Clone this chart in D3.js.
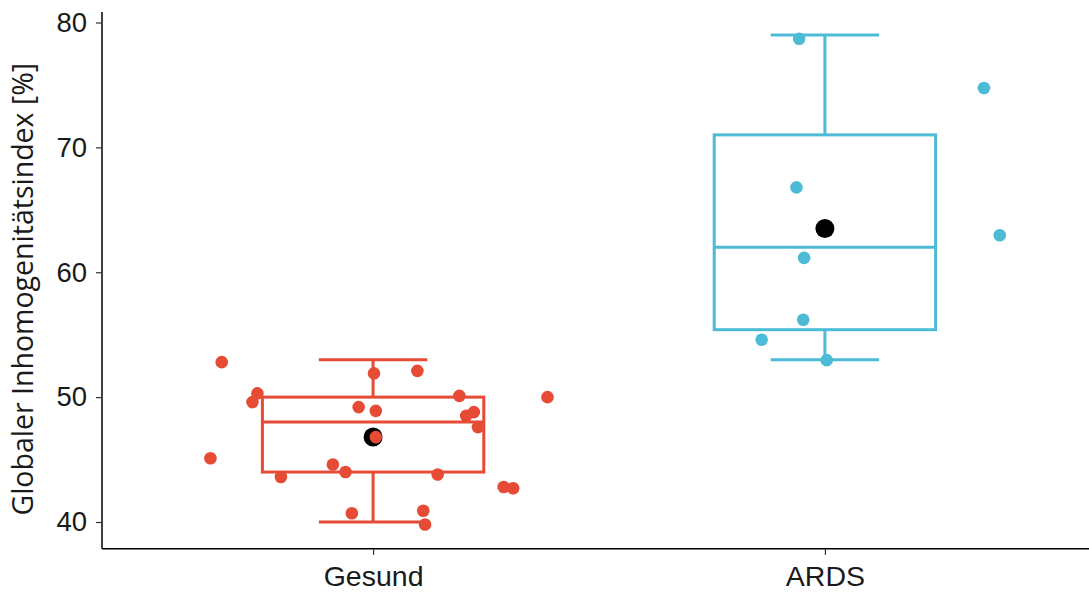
<!DOCTYPE html>
<html>
<head>
<meta charset="utf-8">
<script src="https://cdn.jsdelivr.net/npm/d3@7"></script>
<style>
  body { margin: 0; background: #fff; }
  svg { display: block; font-family: "Open Sans", "Noto Sans", sans-serif; }
</style>
</head>
<body>
<div id="chart"></div>
<script>
// groups and their colours
var groups = ["Gesund", "ARDS"];
var colors = ["#E64B35", "#4DBBD5"];

// box statistics per group: [lower whisker, q1, median, q3, upper whisker]
var boxStats = [
  [40, 44, 48, 50, 53],
  [53, 55.4, 62, 71, 79]
];
var means = [46.8, 63.5];

// jittered points (offset is jitter as a fraction of the band step)
var gesundValues = [52.8, 51.9, 52.1, 50.3, 49.6, 50.1, 50.0, 49.2, 48.9, 48.5, 48.8, 47.6,
                    46.8, 45.1, 44.6, 44.0, 43.6, 43.8, 42.8, 42.7, 40.7, 40.9, 39.8];
var gesundJitter = [-0.335, 0.002, 0.098, -0.256, -0.267, 0.191, 0.386, -0.032, 0.006, 0.206,
                    0.223, 0.232, 0.006, -0.36, -0.089, -0.061, -0.204, 0.143, 0.289, 0.31,
                    -0.047, 0.111, 0.115];
var ardsValues = [78.7, 74.75, 66.8, 62.96, 61.15, 56.2, 54.6, 52.96];
var ardsJitter = [-0.057, 0.352, -0.063, 0.387, -0.046, -0.048, -0.14, 0.004];

var yTicks = [40, 50, 60, 70, 80];

var W = 1089, H = 592;
var svg = d3.select("#chart").append("svg")
    .attr("width", W).attr("height", H);

var x = d3.scalePoint()
    .domain(groups)
    .range([102, 1096])
    .padding(0.6);
var step = x.step();

var y = d3.scaleLinear()
    .domain([40, 80])
    .range([522, 22.5]);

// axes
var yAxis = svg.append("g")
    .attr("transform", "translate(102,0)")
    .call(d3.axisLeft(y).tickValues(yTicks).tickSize(6).tickPadding(9).tickSizeOuter(0));
yAxis.select(".domain").attr("d", "M0," + y(80.85) + "V" + y(37.85))
    .attr("stroke", "#000").attr("stroke-width", 1.5);
yAxis.selectAll(".tick line").attr("stroke", "#333").attr("stroke-width", 1.2);
yAxis.selectAll(".tick text").attr("font-size", 27.5).attr("fill", "#1a1a1a");

var xAxis = svg.append("g")
    .attr("transform", "translate(0," + y(37.85) + ")")
    .call(d3.axisBottom(x).tickSize(6).tickPadding(11).tickSizeOuter(0));
xAxis.select(".domain").attr("d", "M102,0H" + W)
    .attr("stroke", "#000").attr("stroke-width", 1.5);
xAxis.selectAll(".tick line").attr("stroke", "#333").attr("stroke-width", 1.2);
xAxis.selectAll(".tick text").attr("font-size", 28.5).attr("fill", "#1a1a1a");

svg.append("text")
    .attr("transform", "translate(33," + (y(60) + 17) + ") rotate(-90)")
    .attr("text-anchor", "middle")
    .attr("font-size", 28.5)
    .attr("fill", "#1a1a1a")
    .text("Globaler Inhomogenitätsindex [%]");

// boxplots
var boxW = step * 0.49, capW = step * 0.24;
groups.forEach(function(g, i) {
  var s = boxStats[i], cx = x(g), c = colors[i];
  var gb = svg.append("g")
      .attr("stroke", c).attr("stroke-width", 3).attr("fill", "none");
  gb.append("line").attr("x1", cx).attr("x2", cx).attr("y1", y(s[0])).attr("y2", y(s[1]));
  gb.append("line").attr("x1", cx).attr("x2", cx).attr("y1", y(s[3])).attr("y2", y(s[4]));
  gb.append("line").attr("x1", cx - capW / 2).attr("x2", cx + capW / 2).attr("y1", y(s[0])).attr("y2", y(s[0]));
  gb.append("line").attr("x1", cx - capW / 2).attr("x2", cx + capW / 2).attr("y1", y(s[4])).attr("y2", y(s[4]));
  gb.append("rect")
      .attr("x", cx - boxW / 2).attr("width", boxW)
      .attr("y", y(s[3])).attr("height", y(s[1]) - y(s[3]));
  gb.append("line").attr("x1", cx - boxW / 2).attr("x2", cx + boxW / 2).attr("y1", y(s[2])).attr("y2", y(s[2]));
});

// mean markers
svg.selectAll(".mean")
    .data(groups)
    .enter().append("circle")
    .attr("class", "mean")
    .attr("cx", function(d) { return x(d); })
    .attr("cy", function(d, i) { return y(means[i]); })
    .attr("r", 9.5)
    .attr("fill", "#000");

// jittered points
var pointSets = [
  { group: "Gesund", values: gesundValues, jitter: gesundJitter, color: colors[0] },
  { group: "ARDS", values: ardsValues, jitter: ardsJitter, color: colors[1] }
];
pointSets.forEach(function(p) {
  svg.append("g").selectAll("circle")
      .data(p.values)
      .enter().append("circle")
      .attr("cx", function(d, i) { return x(p.group) + p.jitter[i] * step; })
      .attr("cy", function(d) { return y(d); })
      .attr("r", 6.3)
      .attr("fill", p.color);
});
</script>
</body>
</html>
